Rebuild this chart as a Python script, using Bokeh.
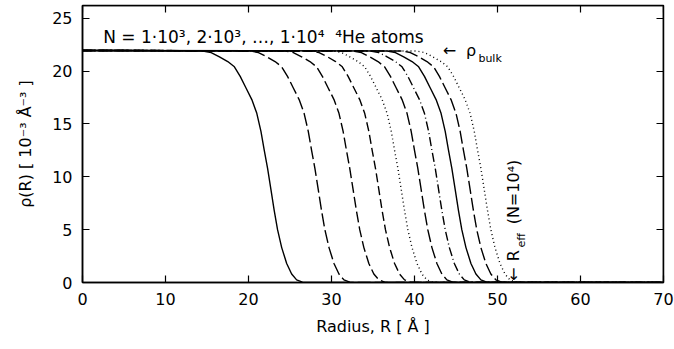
from bokeh.plotting import figure
from bokeh.models import LinearAxis, FixedTicker, Range1d
from bokeh.core.properties import value
from bokeh.embed import file_html
from bokeh.resources import INLINE
import math

# ---- data ----
x_ticks = [0, 10, 20, 30, 40, 50, 60, 70]
y_ticks = [0, 5, 10, 15, 20, 25]

# density values (10^-3 A^-3) sampled along every profile
rho_profile = [21.95, 21.9, 21.75, 21.35, 20.9, 20.4, 19.5, 18.4, 17.3, 16.0, 14.3,
               12.5, 10.8, 8.8, 6.8, 5.0, 3.3, 1.8, 0.8, 0.25, 0.03, 0.0, 0.0]

r_n1000 = [0, 14.5, 15.5, 16.5, 17.5, 18.3, 19.0, 19.7, 20.4, 21.0, 21.5, 21.9, 22.3, 22.7, 23.1, 23.5, 24.0, 24.6, 25.2, 25.8, 26.5, 27.5, 70]
r_n2000 = [0, 20.2, 21.2, 22.2, 23.2, 24.0, 24.7, 25.4, 26.1, 26.7, 27.2, 27.6, 28.0, 28.4, 28.8, 29.2, 29.7, 30.3, 30.9, 31.5, 32.2, 33.2, 70]
r_n3000 = [0, 24.4, 25.4, 26.4, 27.4, 28.2, 28.9, 29.6, 30.3, 30.9, 31.4, 31.8, 32.2, 32.6, 33.0, 33.4, 33.9, 34.5, 35.1, 35.7, 36.4, 37.4, 70]
r_n4000 = [0, 27.5, 28.5, 29.5, 30.5, 31.3, 32.0, 32.7, 33.4, 34.0, 34.5, 34.9, 35.3, 35.7, 36.1, 36.5, 37.0, 37.6, 38.2, 38.8, 39.5, 40.5, 70]
r_n5000 = [0, 30.2, 31.2, 32.2, 33.2, 34.0, 34.7, 35.4, 36.1, 36.7, 37.2, 37.6, 38.0, 38.4, 38.8, 39.2, 39.7, 40.3, 40.9, 41.5, 42.2, 43.2, 70]
r_n6000 = [0, 32.6, 33.6, 34.6, 35.6, 36.4, 37.1, 37.8, 38.5, 39.1, 39.6, 40.0, 40.4, 40.8, 41.2, 41.6, 42.1, 42.7, 43.3, 43.9, 44.6, 45.6, 70]
r_n7000 = [0, 34.7, 35.7, 36.7, 37.7, 38.5, 39.2, 39.9, 40.6, 41.2, 41.7, 42.1, 42.5, 42.9, 43.3, 43.7, 44.2, 44.8, 45.4, 46.0, 46.7, 47.7, 70]
r_n8000 = [0, 36.7, 37.7, 38.7, 39.7, 40.5, 41.2, 41.9, 42.6, 43.2, 43.7, 44.1, 44.5, 44.9, 45.3, 45.7, 46.2, 46.8, 47.4, 48.0, 48.7, 49.7, 70]
r_n9000 = [0, 38.5, 39.5, 40.5, 41.5, 42.3, 43.0, 43.7, 44.4, 45.0, 45.5, 45.9, 46.3, 46.7, 47.1, 47.5, 48.0, 48.6, 49.2, 49.8, 50.5, 51.5, 70]
r_n10000 = [0, 40.2, 41.2, 42.2, 43.2, 44.0, 44.7, 45.4, 46.1, 46.7, 47.2, 47.6, 48.0, 48.4, 48.8, 49.2, 49.7, 50.3, 50.9, 51.5, 52.2, 53.2, 70]

curves = [r_n1000, r_n2000, r_n3000, r_n4000, r_n5000,
          r_n6000, r_n7000, r_n8000, r_n9000, r_n10000]
dashes = ["solid", "13 4", "11 4", "9 4", "1 3",
          "13 4", "9 3 1 3", "solid", "13 4", "1 3"]

X_MAX = 70
Y_MAX = 26.2

FONT = "DejaVu Sans"

p = figure(width=674, height=349, x_range=Range1d(0, X_MAX), y_range=Range1d(0, Y_MAX),
           output_backend="svg", toolbar_location=None,
           min_border_left=82, min_border_right=11, min_border_top=5, min_border_bottom=67)
p.grid.visible = False
p.background_fill_color = "white"
p.border_fill_color = "white"
p.outline_line_color = "black"
p.outline_line_width = 1.5

for ax, ticks in ((p.xaxis[0], x_ticks), (p.yaxis[0], y_ticks)):
    ax.ticker = FixedTicker(ticks=ticks)
    ax.major_tick_in = 7
    ax.major_tick_out = 0
    ax.minor_tick_line_color = None
    ax.axis_line_width = 1.5
    ax.major_tick_line_width = 1.2
    ax.major_label_text_font = FONT
    ax.major_label_text_font_size = "16px"
    ax.major_label_text_color = "black"
    ax.axis_label_text_font = FONT
    ax.axis_label_text_font_size = "16px"
    ax.axis_label_text_font_style = "normal"
    ax.axis_label_text_color = "black"

p.xaxis.axis_label = "Radius, R [ Å ]"
p.yaxis.axis_label = "ρ(R) [ 10⁻³ Å⁻³ ]"
p.xaxis.major_label_standoff = 10
p.yaxis.major_label_standoff = 10
p.xaxis.axis_label_standoff = 9
p.yaxis.axis_label_standoff = 14

top_ax = LinearAxis(ticker=FixedTicker(ticks=x_ticks), fixed_location=Y_MAX,
                    major_tick_in=7, major_tick_out=0, minor_tick_line_color=None,
                    major_label_overrides={t: "" for t in x_ticks},
                    major_label_standoff=0, axis_line_width=1.5, major_tick_line_width=1.2)
right_ax = LinearAxis(ticker=FixedTicker(ticks=y_ticks), fixed_location=X_MAX,
                      major_tick_in=7, major_tick_out=0, minor_tick_line_color=None,
                      major_label_overrides={t: "" for t in y_ticks},
                      major_label_standoff=0, axis_line_width=1.5, major_tick_line_width=1.2)
p.add_layout(top_ax, "above")
p.add_layout(right_ax, "right")

for r, d in zip(curves, dashes):
    p.line(r, rho_profile, line_color="black", line_width=1.4, line_dash=d)

# annotations
p.text(x=[2.5], y=[23.2], text=["N = 1·10³, 2·10³, …, 1·10⁴\u00a0\u00a0⁴He atoms"],
       text_font=value(FONT), text_font_size="17px", text_color="black",
       text_baseline="alphabetic")
p.text(x=[43.4], y=[21.95], text=["←"], text_font=value(FONT), text_font_size="16px",
       text_color="black", text_baseline="middle")
p.text(x=[46.2], y=[21.95], text=["ρ"], text_font=value(FONT), text_font_size="16px",
       text_color="black", text_baseline="middle")
p.text(x=[47.7], y=[21.2], text=["bulk"], text_font=value(FONT), text_font_size="11px",
       text_color="black", text_baseline="middle")

p.text(x=[51.9], y=[0.15], text=["←"], angle=math.pi / 2, text_font=value(FONT),
       text_font_size="16px", text_color="black", text_baseline="middle")
p.text(x=[51.9], y=[2.0], text=["R"], angle=math.pi / 2, text_font=value(FONT),
       text_font_size="16px", text_color="black", text_baseline="middle")
p.text(x=[52.9], y=[3.3], text=["eff"], angle=math.pi / 2, text_font=value(FONT),
       text_font_size="11px", text_color="black", text_baseline="middle")
p.text(x=[51.9], y=[5.5], text=[" (N=10⁴)"], angle=math.pi / 2, text_font=value(FONT),
       text_font_size="16px", text_color="black", text_baseline="middle")

open("out.html", "w").write(file_html(p, INLINE))
